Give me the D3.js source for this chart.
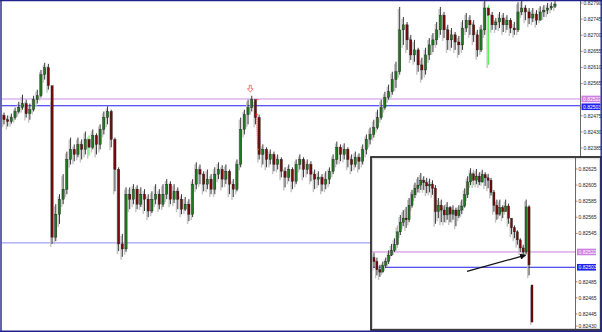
<!DOCTYPE html>
<html>
<head>
<meta charset="utf-8">
<script src="https://cdn.jsdelivr.net/npm/d3@7"></script>
<style>
  body { margin: 0; background: #fff; }
  svg { display: block; font-family: "Liberation Sans", Arial, sans-serif; }
</style>
</head>
<body>
<div class="canvas"></div>
<script>
// main chart, open of each bar = previous close
const mainFirstOpen = 0.82476;
const mainClose = [
  0.82464, 0.82459, 0.8247, 0.82487, 0.82498, 0.82509, 0.82481, 0.82492, 0.8252, 0.82531,
  0.8259, 0.82609, 0.82559, 0.82136, 0.822, 0.82242, 0.8227, 0.82353, 0.82381, 0.82367,
  0.82395, 0.82381, 0.82409, 0.82387, 0.8242, 0.82395, 0.82437, 0.8247, 0.82487, 0.82409,
  0.82325, 0.82117, 0.82103, 0.82256, 0.82242, 0.8227, 0.82228, 0.82256, 0.82242, 0.82209,
  0.82242, 0.82256, 0.82228, 0.82256, 0.82284, 0.82242, 0.82264, 0.82242, 0.82214, 0.82228,
  0.822, 0.82284, 0.82325, 0.82312, 0.82284, 0.82298, 0.8227, 0.82312, 0.82325, 0.82298,
  0.8232, 0.82284, 0.8227, 0.82339, 0.82437, 0.82478, 0.82498, 0.8252, 0.8247, 0.82367,
  0.82381, 0.82353, 0.82367, 0.82339, 0.82353, 0.8232, 0.82303, 0.82325, 0.82292, 0.82339,
  0.82353, 0.82325, 0.82339, 0.82312, 0.82298, 0.82303, 0.82284, 0.82298, 0.8232, 0.82353,
  0.82387, 0.82367, 0.82381, 0.82353, 0.82339, 0.82359, 0.82348, 0.82381, 0.82409, 0.82423,
  0.82442, 0.8247, 0.82498, 0.82526, 0.82542, 0.82576, 0.82598, 0.82715, 0.82729, 0.82687,
  0.82645, 0.82659, 0.82617, 0.82603, 0.82645, 0.82673, 0.82687, 0.82715, 0.82756, 0.82715,
  0.82687, 0.82701, 0.82681, 0.82673, 0.8272, 0.82742, 0.82729, 0.82701, 0.82659, 0.82715,
  0.82776, 0.82756, 0.82729, 0.82737, 0.82748, 0.82729, 0.82742, 0.8272, 0.82715, 0.82765,
  0.82776, 0.82765, 0.82748, 0.82759, 0.82742, 0.82765, 0.8277, 0.82776, 0.82781, 0.82787
];
const mainHigh = [
  0.82484, 0.82476, 0.82481, 0.82498, 0.82514, 0.82534, 0.8252, 0.82509, 0.82531, 0.82548,
  0.82603, 0.82623, 0.8262, 0.8252, 0.82228, 0.82256, 0.82312, 0.82375, 0.82414, 0.82395,
  0.82414, 0.82409, 0.82431, 0.8242, 0.82437, 0.82426, 0.82451, 0.82487, 0.82501, 0.82492,
  0.82414, 0.82331, 0.82145, 0.82275, 0.82275, 0.82284, 0.82281, 0.82275, 0.8227, 0.82256,
  0.82264, 0.82284, 0.8227, 0.82284, 0.82298, 0.82292, 0.82284, 0.82275, 0.82256, 0.82248,
  0.82242, 0.82298, 0.82345, 0.82339, 0.8232, 0.82325, 0.82312, 0.82331, 0.82345, 0.82337,
  0.82339, 0.82325, 0.82298, 0.82353, 0.8247, 0.82492, 0.8252, 0.82531, 0.8252, 0.82478,
  0.82395, 0.82387, 0.82381, 0.82375, 0.82367, 0.82359, 0.82331, 0.82339, 0.82331, 0.82353,
  0.82367, 0.82359, 0.82353, 0.82348, 0.82325, 0.8232, 0.82312, 0.8232, 0.82331, 0.82367,
  0.82403, 0.82395, 0.82398, 0.82387, 0.82367, 0.82375, 0.8237, 0.82395, 0.82423, 0.82442,
  0.82464, 0.82492, 0.8252, 0.82542, 0.82562, 0.82598, 0.82626, 0.82779, 0.82751, 0.82737,
  0.82701, 0.82687, 0.82665, 0.82637, 0.82665, 0.82692, 0.82706, 0.82737, 0.82779, 0.82765,
  0.82729, 0.8272, 0.82709, 0.82698, 0.82742, 0.82762, 0.82756, 0.82742, 0.82715, 0.82729,
  0.82798, 0.82784, 0.82765, 0.82748, 0.82765, 0.82762, 0.82756, 0.82748, 0.82737, 0.82792,
  0.82798, 0.82784, 0.82776, 0.82776, 0.8277, 0.82781, 0.82784, 0.8279, 0.82792, 0.82795
];
const mainLow = [
  0.82451, 0.82445, 0.82453, 0.82464, 0.82481, 0.82492, 0.8247, 0.82464, 0.82487, 0.82509,
  0.82526, 0.82576, 0.82548, 0.82117, 0.82125, 0.82173, 0.82228, 0.82256, 0.82339, 0.82348,
  0.82359, 0.82353, 0.82367, 0.82364, 0.82381, 0.82367, 0.82381, 0.82423, 0.82451, 0.82387,
  0.82264, 0.82097, 0.82081, 0.82095, 0.82214, 0.82228, 0.82214, 0.8222, 0.82209, 0.82192,
  0.82203, 0.82228, 0.82214, 0.8222, 0.82242, 0.82228, 0.82231, 0.82214, 0.822, 0.82209,
  0.82181, 0.82192, 0.8227, 0.82284, 0.82264, 0.8227, 0.82256, 0.82256, 0.82298, 0.82275,
  0.82284, 0.82256, 0.82248, 0.82264, 0.82331, 0.82423, 0.82451, 0.82487, 0.82451, 0.82353,
  0.82339, 0.82331, 0.82339, 0.8232, 0.82325, 0.82303, 0.82275, 0.82292, 0.8227, 0.82284,
  0.82325, 0.82303, 0.82312, 0.82292, 0.8227, 0.82281, 0.82264, 0.8227, 0.82284, 0.82312,
  0.82339, 0.82348, 0.82353, 0.82331, 0.8232, 0.82331, 0.82325, 0.82339, 0.82367, 0.82395,
  0.82414, 0.82437, 0.82464, 0.82492, 0.8252, 0.82534, 0.82553, 0.8259, 0.82673, 0.82659,
  0.82631, 0.82626, 0.82598, 0.82576, 0.8259, 0.82631, 0.82653, 0.82673, 0.82701, 0.82692,
  0.82659, 0.82665, 0.82659, 0.82645, 0.82659, 0.82709, 0.82701, 0.82681, 0.8264, 0.82653,
  0.82701, 0.82617, 0.82715, 0.82715, 0.8272, 0.82709, 0.82715, 0.82706, 0.82701, 0.82709,
  0.82756, 0.82742, 0.82731, 0.82737, 0.82729, 0.82742, 0.82751, 0.82759, 0.8277, 0.82776
];
const mainBright = [23, 131];
const mainTicks = [0.8279, 0.82745, 0.827, 0.82655, 0.8261, 0.82565, 0.82475, 0.8243, 0.82385];

// inset (lower timeframe), last bar opened with a gap
const insetFirstOpen = 0.82515;
const insetGapOpen = { 54: 0.82481 };
const insetClose = [
  0.8251, 0.825, 0.82497, 0.82505, 0.8251, 0.82518, 0.82524, 0.82531, 0.82547, 0.82559,
  0.82564, 0.82562, 0.8258, 0.82593, 0.82601, 0.82605, 0.82611, 0.82608, 0.82604, 0.82606,
  0.82601, 0.82572, 0.8258, 0.82574, 0.82568, 0.82577, 0.82569, 0.82574, 0.82567, 0.82574,
  0.82579, 0.82593, 0.82609, 0.82619, 0.82611, 0.82616, 0.82609, 0.82618, 0.82614, 0.82611,
  0.82596, 0.8258, 0.82569, 0.82577, 0.82572, 0.82579, 0.82564, 0.82552, 0.82547, 0.82537,
  0.82527, 0.82522, 0.82578, 0.82506, 0.82435
];
const insetHigh = [
  0.82521, 0.82515, 0.82506, 0.8251, 0.82515, 0.82524, 0.82532, 0.82539, 0.82555, 0.82568,
  0.82574, 0.82578, 0.82589, 0.82599, 0.82608, 0.82615, 0.8262, 0.82616, 0.82614, 0.82613,
  0.82611, 0.82605, 0.82589, 0.82587, 0.8258, 0.82584, 0.82579, 0.8258, 0.82577, 0.8258,
  0.82587, 0.82601, 0.82616, 0.82626, 0.82624, 0.82625, 0.82621, 0.82624, 0.82621, 0.82619,
  0.82614, 0.82599, 0.82587, 0.82587, 0.8258, 0.82587, 0.82582, 0.82562, 0.82555, 0.82549,
  0.82539, 0.82531, 0.82587, 0.8258, 0.82481
];
const insetLow = [
  0.82502, 0.82493, 0.82491, 0.82497, 0.82502, 0.82507, 0.82517, 0.82522, 0.82527, 0.82543,
  0.82554, 0.82552, 0.82559, 0.82577, 0.82589, 0.82596, 0.82599, 0.82599, 0.82595, 0.82596,
  0.82593, 0.82557, 0.82564, 0.82559, 0.82559, 0.82562, 0.82559, 0.82562, 0.82554, 0.82564,
  0.82569, 0.82577, 0.82589, 0.82605, 0.82605, 0.82606, 0.82605, 0.82608, 0.82604, 0.82601,
  0.82592, 0.82572, 0.82562, 0.82567, 0.82564, 0.82572, 0.82557, 0.82544, 0.82539, 0.82531,
  0.82522, 0.82517, 0.82519, 0.82493, 0.82435
];
const insetBright = [8, 34];
const insetTicks = [0.82625, 0.82605, 0.82585, 0.82565, 0.82545, 0.82485, 0.82465, 0.82445, 0.8243];

const pinkLevel = 0.82522,
  blueLevel = 0.82503,
  supportLevel = 0.8212;

const WIDTH = 602,
  HEIGHT = 332,
  MAIN = { left: 2, right: 580, top: 1, bottom: 331, x0: 4, x1: 555 },
  INSET = { left: 371, right: 601, top: 157, bottom: 330, axis: 575, x0: 374, x1: 532 },
  COLORS = {
    up: "#1f7a1f",
    down: "#7a0a0a",
    wick: "#222",
    ghost: "#c4c4c4",
    bright: "#33ee33",
    frame: "#23238c",
    pink: "#cf7fe0",
    pinkLine: "#dcb4ee",
    blue: "#1f1fee",
    support: "#8c8cf2",
  };

let svg, mainX, mainY, insetX, insetY;

function buildBars(firstOpen, close, high, low, gaps) {
  return close.map((c, i) => ({
    i,
    open: i === 0 ? firstOpen : gaps && gaps[i] !== undefined ? gaps[i] : close[i - 1],
    close: c,
    high: high[i],
    low: low[i],
  }));
}

function setSVG() {
  svg = d3
    .select(".canvas")
    .append("svg")
    .attr("width", WIDTH)
    .attr("height", HEIGHT);

  svg.append("rect").attr("width", WIDTH).attr("height", HEIGHT).attr("fill", "#fff");

  const defs = svg.append("defs");
  defs
    .append("clipPath")
    .attr("id", "clip-main")
    .append("rect")
    .attr("x", MAIN.left)
    .attr("y", MAIN.top)
    .attr("width", MAIN.right - MAIN.left)
    .attr("height", MAIN.bottom - MAIN.top);
  defs
    .append("clipPath")
    .attr("id", "clip-inset")
    .append("rect")
    .attr("x", INSET.left + 1)
    .attr("y", INSET.top + 2)
    .attr("width", INSET.axis - INSET.left - 1)
    .attr("height", INSET.bottom - INSET.top - 3);

  const marker = defs
    .append("marker")
    .attr("id", "arrow-head")
    .attr("viewBox", "0 0 10 10")
    .attr("refX", 9)
    .attr("refY", 5)
    .attr("markerWidth", 6)
    .attr("markerHeight", 5)
    .attr("orient", "auto");
  marker.append("path").attr("d", "M0,0L10,5L0,10Z").attr("fill", "#111");
}

function setScales() {
  mainX = d3.scaleLinear().domain([0, mainClose.length - 1]).range([MAIN.x0, MAIN.x1]);
  mainY = d3.scaleLinear().domain([0.82385, 0.8279]).range([148, 3]);
  insetX = d3.scaleLinear().domain([0, insetClose.length - 1]).range([INSET.x0, INSET.x1]);
  insetY = d3.scaleLinear().domain([0.82445, 0.82625]).range([314, 169]);
}

function drawCandles(g, bars, x, y, bright, bodyWidth) {
  // light shadow bars behind
  g.selectAll(".ghost")
    .data(bars)
    .enter()
    .append("line")
    .attr("class", "ghost")
    .attr("x1", (d) => x(d.i) - 1.3)
    .attr("x2", (d) => x(d.i) - 1.3)
    .attr("y1", (d) => y(d.high) + 2)
    .attr("y2", (d) => y(d.low) + 3)
    .attr("stroke", COLORS.ghost)
    .attr("stroke-width", 1.4);

  g.selectAll(".wick")
    .data(bars)
    .enter()
    .append("line")
    .attr("class", "wick")
    .attr("x1", (d) => x(d.i))
    .attr("x2", (d) => x(d.i))
    .attr("y1", (d) => y(d.high))
    .attr("y2", (d) => y(d.low))
    .attr("stroke", (d) => (bright.includes(d.i) ? COLORS.bright : COLORS.wick))
    .attr("stroke-width", 0.9);

  g.selectAll(".body")
    .data(bars)
    .enter()
    .append("rect")
    .attr("class", "body")
    .attr("x", (d) => x(d.i) - bodyWidth / 2)
    .attr("y", (d) => y(Math.max(d.open, d.close)))
    .attr("width", bodyWidth)
    .attr("height", (d) => Math.max(1, Math.abs(y(d.open) - y(d.close))))
    .attr("fill", (d) => (d.close >= d.open ? COLORS.up : COLORS.down))
    .attr("stroke", "#111")
    .attr("stroke-width", 0.35);
}

function drawLevel(g, x1, x2, y, color, width) {
  g.append("line")
    .attr("x1", x1)
    .attr("x2", x2)
    .attr("y1", y)
    .attr("y2", y)
    .attr("stroke", color)
    .attr("stroke-width", width);
}

function drawAxis(axisX, ticks, y, top, bottom) {
  const g = svg.append("g").attr("font-size", 5).attr("fill", "#222");
  g.append("line")
    .attr("x1", axisX + 0.5)
    .attr("x2", axisX + 0.5)
    .attr("y1", top)
    .attr("y2", bottom)
    .attr("stroke", "#444")
    .attr("stroke-width", 0.8);
  const tick = g.selectAll(".tick").data(ticks).enter().append("g");
  tick
    .append("line")
    .attr("x1", axisX + 0.5)
    .attr("x2", axisX + 2.5)
    .attr("y1", (d) => y(d))
    .attr("y2", (d) => y(d))
    .attr("stroke", "#444")
    .attr("stroke-width", 0.6);
  tick
    .append("text")
    .attr("x", axisX + 3.5)
    .attr("y", (d) => y(d))
    .attr("dy", "0.35em")
    .text((d) => d.toFixed(5));
}

function drawPriceTag(x, y, value, fill) {
  svg.append("rect")
    .attr("x", x)
    .attr("y", y - 3.3)
    .attr("width", 19)
    .attr("height", 6.6)
    .attr("fill", fill);
  svg.append("text")
    .attr("x", x + 1.5)
    .attr("y", y)
    .attr("dy", "0.35em")
    .attr("font-size", 5)
    .attr("fill", "#fff")
    .text(value.toFixed(5));
}

function drawMain() {
  const bars = buildBars(mainFirstOpen, mainClose, mainHigh, mainLow);
  const g = svg.append("g").attr("clip-path", "url(#clip-main)");

  drawLevel(g, MAIN.left, MAIN.right, mainY(pinkLevel), COLORS.pinkLine, 1.6);
  drawLevel(g, MAIN.left, MAIN.right, mainY(blueLevel), COLORS.blue, 1);
  drawLevel(g, MAIN.left, MAIN.right, mainY(supportLevel), COLORS.support, 1);

  drawCandles(g, bars, mainX, mainY, mainBright, 2.2);

  // sell signal marks on the spike top
  const top = bars[67];
  g.append("path")
    .attr("transform", `translate(${mainX(top.i) - 1.5},${mainY(top.high) - 7})`)
    .attr("d", "M-1,-3.5H1V0H2.8L0,3.5L-2.8,0H-1Z")
    .attr("fill", "#fff")
    .attr("stroke", "#ff4040")
    .attr("stroke-width", 0.7);
  g.append("line")
    .attr("x1", mainX(68))
    .attr("x2", mainX(68) + 3)
    .attr("y1", mainY(top.close))
    .attr("y2", mainY(top.close))
    .attr("stroke", "#ff3030")
    .attr("stroke-width", 0.8);
  g.append("line")
    .attr("x1", mainX(68.3))
    .attr("x2", mainX(68.6))
    .attr("y1", mainY(bars[68].close) - 3)
    .attr("y2", mainY(bars[70].close))
    .attr("stroke", "#e02020")
    .attr("stroke-width", 0.9)
    .attr("stroke-dasharray", "1.2,0.8");
  g.append("circle")
    .attr("cx", mainX(68.3))
    .attr("cy", mainY(bars[68].close) - 3)
    .attr("r", 1.1)
    .attr("fill", "#ff2020");
  g.append("circle")
    .attr("cx", mainX(68.6))
    .attr("cy", mainY(bars[70].close))
    .attr("r", 0.9)
    .attr("fill", "#f0a020");

  drawAxis(MAIN.right, mainTicks, mainY, 0, INSET.top);
  drawPriceTag(MAIN.right + 1.5, mainY(pinkLevel), pinkLevel, COLORS.pink);
  drawPriceTag(MAIN.right + 1.5, mainY(blueLevel) + 1, blueLevel, COLORS.blue);
}

function drawInset() {
  const bars = buildBars(insetFirstOpen, insetClose, insetHigh, insetLow, insetGapOpen);

  svg.append("rect")
    .attr("x", INSET.left)
    .attr("y", INSET.top)
    .attr("width", INSET.right - INSET.left)
    .attr("height", INSET.bottom - INSET.top)
    .attr("fill", "#fff")
    .attr("stroke", "#111")
    .attr("stroke-width", 1.6);
  svg.append("rect")
    .attr("x", INSET.left + 1.5)
    .attr("y", INSET.top + 1.8)
    .attr("width", INSET.right - INSET.left - 3)
    .attr("height", INSET.bottom - INSET.top - 3.3)
    .attr("fill", "none")
    .attr("stroke", "#cfcfcf")
    .attr("stroke-width", 0.8);

  const g = svg.append("g").attr("clip-path", "url(#clip-inset)");
  drawLevel(g, INSET.left, INSET.axis, insetY(pinkLevel), COLORS.pink, 1);
  drawLevel(g, INSET.left, INSET.axis, insetY(blueLevel), COLORS.blue, 1);
  drawCandles(g, bars, insetX, insetY, insetBright, 2);

  g.append("line")
    .attr("x1", insetX(31.8))
    .attr("y1", insetY(0.82498))
    .attr("x2", insetX(51.8))
    .attr("y2", insetY(0.82518))
    .attr("stroke", "#111")
    .attr("stroke-width", 1.2)
    .attr("marker-end", "url(#arrow-head)");

  drawAxis(INSET.axis, insetTicks, insetY, INSET.top + 1, INSET.bottom);
  drawPriceTag(INSET.axis + 2, insetY(pinkLevel), pinkLevel, COLORS.pink);
  drawPriceTag(INSET.axis + 2, insetY(blueLevel), blueLevel, COLORS.blue);
}

function drawFrame() {
  const g = svg.append("g").attr("fill", "none").attr("stroke", COLORS.frame);
  g.append("line").attr("x1", 0).attr("x2", WIDTH).attr("y1", 0.6).attr("y2", 0.6).attr("stroke-width", 1.2);
  g.append("line").attr("x1", 1).attr("x2", 1).attr("y1", 0).attr("y2", HEIGHT).attr("stroke-width", 1.4);
  g.append("line").attr("x1", WIDTH - 0.8).attr("x2", WIDTH - 0.8).attr("y1", 0).attr("y2", HEIGHT).attr("stroke-width", 1.4);
  g.append("line").attr("x1", 0).attr("x2", WIDTH).attr("y1", HEIGHT - 0.8).attr("y2", HEIGHT - 0.8).attr("stroke-width", 1.4);
}

setSVG();
setScales();
drawMain();
drawInset();
drawFrame();
</script>
</body>
</html>
